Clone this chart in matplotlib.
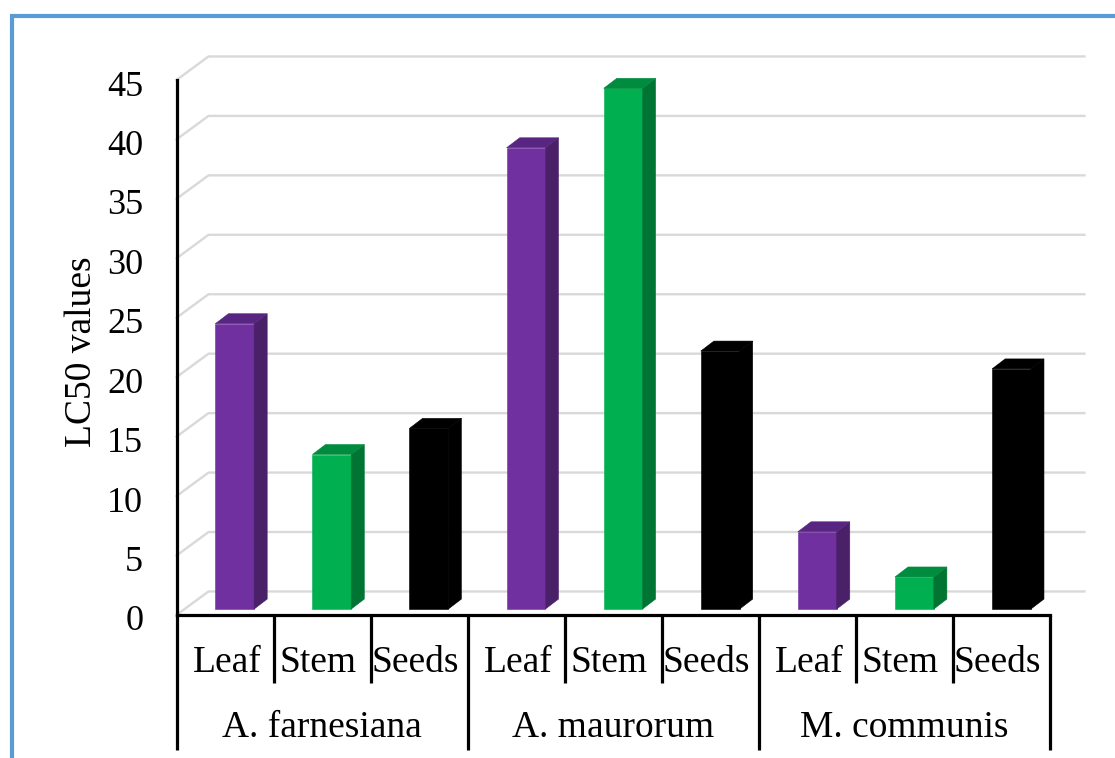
import numpy as np
import matplotlib
matplotlib.use("Agg")
import matplotlib.pyplot as plt
from matplotlib.patches import Polygon
from matplotlib.lines import Line2D
from matplotlib.transforms import ScaledTranslation

plt.rcParams['font.family'] = ['Liberation Serif', 'DejaVu Serif']

# data
species = ["A. farnesiana", "A. maurorum", "M. communis"]
parts = ["Leaf", "Stem", "Seeds"]
lc50 = [24.0, 13.0, 15.2, 38.8, 43.8, 21.7, 6.5, 2.7, 20.2]
yticks = [0, 5, 10, 15, 20, 25, 30, 35, 40, 45]

front_cols = ["#7030A0", "#00B050", "#000000"]
side_cols = ["#4A2069", "#007533", "#000000"]
top_cols = ["#582682", "#008C3F", "#000000"]

W, H = 1115, 758
fig = plt.figure(figsize=(W / 100, H / 100), dpi=100)
ax = fig.add_axes([176.5 / W, 1 - 615 / H, 873 / W, 535 / H])
ax.set_xlim(0, 9)
ax.set_ylim(0, 45)

# depth of the fake 3d box, in data units
wall_dx, wall_dy = 0.33, 1.98
bar_dx, bar_dy = 0.135, 0.84
bar_w = 0.4
bar_base = 0.5

# gridlines on floor/wall
for t in yticks:
    ax.plot([0, wall_dx, 9.36], [t, t + wall_dy, t + wall_dy],
            color="#D9D9D9", lw=1.7, clip_on=False, zorder=1)

# bars
xpos = np.arange(len(lc50)) * 1.001 + 0.6
for i, (x, v) in enumerate(zip(xpos, lc50)):
    k = i % 3
    left, right = x - bar_w / 2, x + bar_w / 2
    top = bar_base + v
    ax.bar(x, v, width=bar_w, bottom=bar_base, color=front_cols[k],
           edgecolor=front_cols[k], linewidth=0.4, zorder=3)
    ax.add_patch(Polygon([(right, bar_base), (right + bar_dx, bar_base + bar_dy),
                          (right + bar_dx, top + bar_dy), (right, top)],
                         closed=True, fc=side_cols[k], ec=side_cols[k], lw=0.4,
                         zorder=3, clip_on=False))
    ax.add_patch(Polygon([(left, top), (left + bar_dx, top + bar_dy),
                          (right + bar_dx, top + bar_dy), (right, top)],
                         closed=True, fc=top_cols[k], ec=top_cols[k], lw=0.4,
                         zorder=3, clip_on=False))

# axis
for s in ["top", "right"]:
    ax.spines[s].set_visible(False)
ax.spines["left"].set_linewidth(2.3)
ax.spines["bottom"].set_linewidth(2.3)
ax.spines["bottom"].set_zorder(4)
ax.patch.set_alpha(0)
ax.set_xticks([])
ax.set_yticks(yticks)
ax.tick_params(axis="y", length=0, pad=24, labelsize=26)
# labels sit a bit lower than the ticks in the original
shift = ScaledTranslation(0, -3 / 100, fig.dpi_scale_trans)
for lab in ax.get_yticklabels():
    lab.set_transform(lab.get_transform() + shift)
ax.set_ylabel("LC50 values", fontsize=27, labelpad=6)
ax.yaxis.label.set_y(0.5 - 4 / 535)

# two level category axis
for i in range(10):
    bottom = -11.35 if i % 3 == 0 else -5.72
    ax.plot([i, i], [0, bottom], color="black", lw=2.3, clip_on=False,
            solid_capstyle="butt", zorder=4)
part_nudge = [0.02, -0.04, -0.04]
for i in range(9):
    ax.text(i + 0.5 + part_nudge[i % 3], -4.79, parts[i % 3], fontsize=27,
            ha="center", va="baseline")
for i, name in enumerate(species):
    ax.text(3 * i + 1.5, -10.26, name, fontsize=27, ha="center", va="baseline")

# blue frame of the pasted picture
fig.add_artist(Line2D([11.5 / W, 11.5 / W, 1], [0, 1 - 15.7 / H, 1 - 15.7 / H],
                      color="#5B9BD5", lw=3, solid_joinstyle="miter"))

fig.savefig("out.png", dpi=100)
